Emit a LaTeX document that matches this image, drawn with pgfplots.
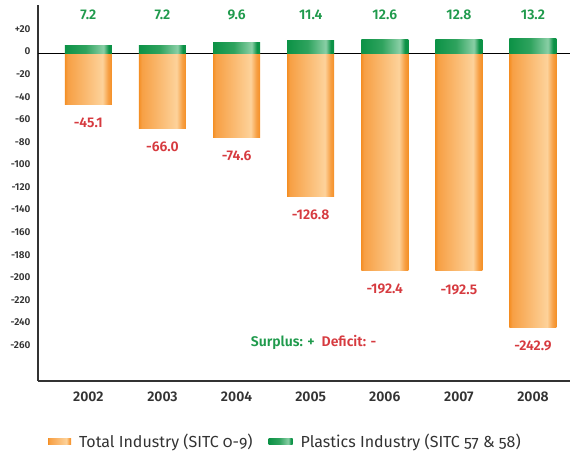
\documentclass[border=0pt]{standalone}
\usepackage{pgfplots}
\pgfplotsset{compat=1.18}
\usepackage{fontspec}
\setmainfont{Fira Sans}[BoldFont={Fira Sans SemiBold}]
\newfontfamily\legfont[Numbers=OldStyle]{Fira Sans}
\definecolor{orA}{HTML}{F48F25}
\definecolor{orM}{HTML}{F7A045}
\definecolor{orB}{HTML}{FDD29A}
\definecolor{grA}{HTML}{0C9246}
\definecolor{grM}{HTML}{2FA35E}
\definecolor{grB}{HTML}{8ACFA6}
\definecolor{txtG}{HTML}{1F9A4C}
\definecolor{txtR}{HTML}{D63A3F}
\definecolor{axc}{HTML}{333333}
\pgfdeclarehorizontalshading{orangebar}{100bp}{color(0bp)=(orA); color(25bp)=(orA); color(28bp)=(orM); color(65bp)=(orB); color(71bp)=(orM); color(75bp)=(orA); color(100bp)=(orA)}
\pgfdeclarehorizontalshading{greenbar}{100bp}{color(0bp)=(grA); color(25bp)=(grA); color(47bp)=(grM); color(66bp)=(grB); color(71.5bp)=(grA); color(75bp)=(grA); color(100bp)=(grA)}
\pgfplotsset{
  obar/.style={ybar, bar width=47pt, bar shift=0pt, draw=none, shade, shading=orangebar,
    nodes near coords, point meta=explicit symbolic,
    nodes near coords align={anchor=north},
    every node near coord/.append style={text=txtR, font=\bfseries\fontsize{14}{16}\selectfont, yshift=-10pt},
    legend image code/.code={\path[shade, shading=orangebar] (0pt,-3pt) rectangle (23pt,3pt);}},
  gbar/.style={ybar, bar width=47pt, bar shift=0pt, draw=none, shade, shading=greenbar,
    legend image code/.code={\path[shade, shading=greenbar] (0pt,-3pt) rectangle (24pt,3pt);}},
}
\begin{document}
\begin{tikzpicture}
\begin{axis}[
  scale only axis, width=532pt, height=376pt,
  xmin=-0.68, xmax=6.5, ymin=-290, ymax=43,
  clip=false,
  axis x line*=bottom, axis y line*=left,
  axis line style={axc, line width=1.8pt},
  major tick length=0pt,
  xtick={0,1,2,3,4,5,6},
  xticklabels={2002,2003,2004,2005,2006,2007,2008},
  xticklabel style={font=\bfseries\fontsize{14}{16}\selectfont, text=axc, yshift=-7pt},
  ytick={20,0,-20,-40,-60,-80,-100,-120,-140,-160,-180,-200,-220,-240,-260},
  yticklabels={+20,0,-20,-40,-60,-80,-100,-120,-140,-160,-180,-200,-220,-240,-260},
  yticklabel style={font=\bfseries\fontsize{10}{12}\selectfont, text=axc, xshift=-4pt, yshift=2pt},
  /pgf/number format/assume math mode=true,
  extra y ticks={0}, extra y tick labels={},
  extra y tick style={grid=major, major grid style={black, line width=1.3pt}},
  legend style={at={(0.465,-0.162)}, anchor=center, draw=none, fill=none,
    legend columns=2,
    /tikz/every odd column/.append style={column sep=6pt},
    /tikz/every even column/.append style={column sep=14pt},
    font=\legfont\fontsize{16}{19}\selectfont, text=axc},
]
\addplot[obar] coordinates {(0,-45.1)[-45.1]};
\addlegendentry{Total Industry (SITC 0-9)}
\addplot[gbar] coordinates {(0,7.2)};
\addlegendentry{Plastics Industry (SITC 57 \& 58)}
\addplot[obar, forget plot] coordinates {(1,-66.0)[-66.0]};
\addplot[obar, forget plot] coordinates {(2,-74.6)[-74.6]};
\addplot[obar, forget plot] coordinates {(3,-126.8)[-126.8]};
\addplot[obar, forget plot] coordinates {(4,-192.4)[-192.4]};
\addplot[obar, forget plot] coordinates {(5,-192.5)[-192.5]};
\addplot[obar, forget plot] coordinates {(6,-242.9)[-242.9]};
\addplot[gbar, forget plot] coordinates {(1,7.2)};
\addplot[gbar, forget plot] coordinates {(2,9.6)};
\addplot[gbar, forget plot] coordinates {(3,11.4)};
\addplot[gbar, forget plot] coordinates {(4,12.6)};
\addplot[gbar, forget plot] coordinates {(5,12.8)};
\addplot[gbar, forget plot] coordinates {(6,13.2)};
\addplot[forget plot, draw=none, mark=none, nodes near coords, point meta=explicit symbolic,
  nodes near coords align={anchor=center},
  every node near coord/.append style={text=txtG, font=\bfseries\fontsize{14}{16}\selectfont}]
 coordinates {(0,34.5)[7.2] (1,34.5)[7.2] (2,34.5)[9.6] (3,34.5)[11.4] (4,34.5)[12.6] (5,34.5)[12.8] (6,34.5)[13.2]};
\node[font=\bfseries\fontsize{14}{16}\selectfont] at (axis cs:3.04,-256)
  {\textcolor{txtG}{Surplus: +}\ \ \textcolor{txtR}{Deficit: -}};
\end{axis}
\pgfresetboundingbox
\path (-38pt,-79pt) rectangle (542pt,381pt);
\end{tikzpicture}
\end{document}
